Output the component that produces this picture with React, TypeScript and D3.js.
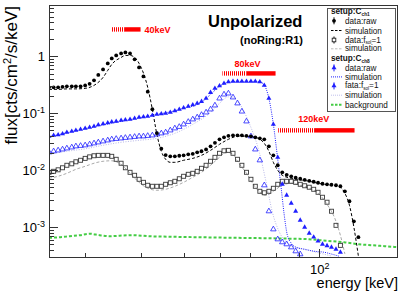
import React from "react";
import * as d3 from "d3";

const W = 407, H = 294;
const FR = { left: 49, right: 398, top: 5, bottom: 257 };
const X_DOMAIN: [number, number] = [25, 150];
const Y_DOMAIN: [number, number] = [3e-4, 8];
const FONT = "'Liberation Sans', Arial, Helvetica, sans-serif";
const BLUE = "#1f1fff";
const RED = "#ff0000";

// common energy grid (keV) for the measured points
const E_GRID = [25.0,25.6,26.2,26.8,27.4,28.1,28.7,29.4,30.1,30.8,31.5,32.2,33.0,33.8,34.5,35.3,36.2,37.0,37.9,38.8,39.7,40.6,41.5,42.5,43.5,44.5,45.5,46.6,47.7,48.8,49.9,51.1,52.3,53.5,54.7,56.0,57.3,58.6,60.0,61.4,62.8,64.3,65.8,67.3,68.9,70.5,72.1,73.8,75.5,77.3,79.1,80.9,82.8,84.7,86.7,88.7,90.8,92.9,95.1,97.3,99.5,101.8,104.2,106.6,109.1,111.6,114.2,116.9,119.6,122.4];

// setup C ch1, data raw
const CH1_RAW = [0.286,0.286,0.286,0.292,0.298,0.298,0.298,0.298,0.310,0.330,0.38,0.473,0.591,0.754,0.922,1.04,1.13,1.175,1.13,0.89,0.64,0.446,0.24,0.118,0.045,0.024,0.0185,0.0176,0.0176,0.0180,0.0183,0.0191,0.0195,0.0207,0.0216,0.0233,0.0264,0.0304,0.0350,0.0379,0.0403,0.0411,0.0411,0.0411,0.0403,0.0395,0.0379,0.0364,0.0350,0.0264,0.0183,0.01225,0.00922,0.00834,0.00785,0.00739,0.00710,0.00681,0.00654,0.00629,0.00604,0.00580,0.00568,0.00557,0.00546,0.00524,0.00428,0.00286,0.00127,0.00067];
// setup C ch1, data f_sol=1
const CH1_FSOL = [0.00922,0.00960,0.0102,0.01107,0.01225,0.0130,0.0141,0.0150,0.0162,0.0172,0.0180,0.0183,0.0183,0.0183,0.0176,0.0156,0.0133,0.01107,0.00922,0.00817,0.00695,0.00615,0.00546,0.00524,0.00524,0.00524,0.00568,0.00604,0.00641,0.0071,0.00785,0.00851,0.00886,0.0096,0.01084,0.01225,0.0144,0.0169,0.0199,0.0220,0.0224,0.0199,0.0156,0.01225,0.00922,0.00695,0.00524,0.00428,0.00403,0.00428,0.00483,0.00568,0.00641,0.00641,0.00641,0.00615,0.00568,0.00535,0.00504,0.00464,0.00411,0.00336,0.00275,0.00191,0.00108,0.00048];
// setup C ch8, data raw
const CH8_RAW = [0.0395,0.0411,0.0420,0.0437,0.0464,0.0483,0.0503,0.0524,0.0546,0.0568,0.0592,0.0629,0.0654,0.0681,0.0710,0.0724,0.0754,0.0769,0.0785,0.0817,0.0851,0.0868,0.0886,0.0922,0.0960,0.098,0.100,0.104,0.1107,0.1175,0.125,0.133,0.141,0.150,0.162,0.183,0.233,0.275,0.304,0.336,0.357,0.364,0.364,0.364,0.364,0.364,0.364,0.357,0.310,0.183,0.0641,0.0169,0.00568,0.00364,0.00264,0.00191,0.00133,0.00100,0.000785,0.00067,0.00057,0.000503,0.000473,0.000445,0.000411,0.000364];
// setup C ch8, data f_sol=1
const CH8_FSOL = [0.0207,0.0216,0.0224,0.0233,0.0243,0.0253,0.0264,0.0269,0.0275,0.0286,0.0298,0.0310,0.0323,0.0336,0.0350,0.0357,0.0364,0.0372,0.0379,0.0387,0.0395,0.0395,0.0403,0.0411,0.0428,0.0446,0.0464,0.0503,0.0546,0.058,0.0641,0.0710,0.0785,0.0851,0.0941,0.104,0.1175,0.138,0.183,0.215,0.224,0.191,0.150,0.108,0.0724,0.0395,0.0233,0.0150,0.00546,0.00191,0.00092,0.000615,0.000546,0.000503,0.000445,0.000379,0.000336];

// simulations
const SIM1_E = [25,26.2,27.4,28.7,30.1,31.5,33.0,33.8,34.5,36.2,37.0,37.9,38.8,39.7,41.5,42.5,43.5,44.5,45.5,46.6,47.7,49.9,52.3,54.7,57.3,60.0,62.8,64.3,65.8,68.9,72.1,73.8,75.5,77.3,79.1,80.9,82.8,86.7,90.8,95.1,99.5,104.2,109.1,111.6,114.2,116.9,119.6,122.4];
const SIM1 = [0.264,0.264,0.269,0.269,0.275,0.310,0.428,0.568,0.724,0.960,1.041,1.041,0.960,0.754,0.286,0.1175,0.0428,0.0216,0.0156,0.0138,0.0138,0.0150,0.0162,0.0183,0.0224,0.0286,0.0350,0.0379,0.0395,0.0395,0.0379,0.0350,0.0298,0.0216,0.0138,0.0100,0.00817,0.00724,0.00681,0.00641,0.00592,0.00557,0.00535,0.00504,0.00395,0.00243,0.0010,0.00031];
const SIM1F_E = [25,26.2,27.4,28.7,30.1,31.5,33.0,34.5,36.2,37.9,39.7,41.5,43.5,45.5,47.7,49.9,52.3,54.7,57.3,60.0,62.1,64.3,65.8,68.9,72.1,73.8,75.5,77.3,79.1,82.8,86.7,90.8,95.1,99.5,104.2,109.1,111.6,114.2];
const SIM1F = [0.00724,0.00785,0.00886,0.0104,0.01175,0.0133,0.0144,0.0147,0.0127,0.00886,0.00615,0.00483,0.00446,0.00464,0.00524,0.00615,0.00754,0.00922,0.01225,0.0169,0.0207,0.0191,0.0144,0.00886,0.00504,0.00411,0.00364,0.00379,0.00428,0.00546,0.00592,0.00546,0.00483,0.00395,0.00253,0.00127,0.00072,0.00034];
const SIM8_E = [25,31.5,39.7,49.9,54.7,57.3,60.0,62.8,65.8,72.1,74.3,76.3,77.8,79.1,80.9,82.4,83.6,84.9,86.7,88.9,92.9,97.5,102.6,106.9,110.8];
const SIM8 = [0.0387,0.058,0.0834,0.1224,0.156,0.215,0.298,0.350,0.364,0.364,0.350,0.264,0.144,0.0641,0.0156,0.00464,0.00169,0.000754,0.000524,0.000445,0.000411,0.000379,0.000364,0.000336,0.00031];
const SIM8F_E = [25,27.4,30.1,33.0,36.2,39.7,43.5,47.7,52.3,57.3,60.0,62.8,64.1,66.4,69.9,73.6,76.3,78.6,81.6,85.8,90.3,96.5,106.9];
const SIM8F = [0.0191,0.0216,0.0238,0.0275,0.0310,0.0336,0.0364,0.0446,0.0641,0.104,0.150,0.195,0.191,0.150,0.0668,0.0207,0.00592,0.00191,0.000817,0.000503,0.000428,0.000379,0.00031];
// background
const BG_E = [25,26.5,27.8,29.3,30.8,32.4,34.2,35.9,38.4,41.9,46.4,53.3,63.1,76.3,87.1,95.1,103.7,113.7,122.8,136.0,150];
const BG = [0.000654,0.000668,0.000695,0.000724,0.000769,0.000724,0.000695,0.00071,0.000724,0.000695,0.000681,0.000668,0.000654,0.000641,0.000628,0.000615,0.000579,0.000546,0.000503,0.000473,0.000445];

// line energy markers
const LINE_LABELS = ["40keV", "80keV", "120keV"];
const LINE_END_E = [40, 80, 120];
const LINE_SOLID_E = [36.9, 68.9, 97.5];
const LINE_HATCH_E = [34.5, 60.9, 81.1];
const LINE_LEVEL = [2.98, 0.503, 0.0503];

export default function App() {
  const x = d3.scaleLog().domain(X_DOMAIN).range([FR.left, FR.right]);
  const y = d3.scaleLog().domain(Y_DOMAIN).range([FR.bottom, FR.top]);
  const yc = (v: number) => y(Math.max(v, 2.5e-4));
  const path = (es: number[], vs: number[]) =>
    d3.line<number>().x((_, i) => x(es[i])).y((d) => yc(d)).curve(d3.curveMonotoneX)(vs) || "";

  const yTicks = y.ticks().filter((t) => t >= Y_DOMAIN[0] && t <= Y_DOMAIN[1]);
  const xTicks = x.ticks().filter((t) => t >= X_DOMAIN[0] && t <= X_DOMAIN[1]);
  const isMajor = (t: number) => Math.abs(Math.log10(t) - Math.round(Math.log10(t))) < 1e-6;
  const tri = d3.symbol().type(d3.symbolTriangle);

  const yLabels: [number, string, string][] = [[1, "1", ""], [0.1, "10", "-1"], [0.01, "10", "-2"], [0.001, "10", "-3"]];

  const legX = 329, legY = 8;
  const legRows = [20.8, 30.5, 40.0, 48.8, 67.9, 76.9, 85.9, 95.2, 104.7];

  return (
    <svg width={W} height={H} style={{ position: "absolute", left: 0, top: 0, background: "#fff" }} fontFamily={FONT}>
      <defs>
        <clipPath id="clip"><rect x={FR.left} y={FR.top} width={FR.right - FR.left} height={FR.bottom - FR.top} /></clipPath>
        <pattern id="hatch" width={2} height={4} patternUnits="userSpaceOnUse">
          <rect x={0} y={0} width={1} height={4} fill={RED} />
        </pattern>
      </defs>
      <rect width={W} height={H} fill="#fff" />

      <g clipPath="url(#clip)">
        {/* background */}
        <path d={path(BG_E, BG)} fill="none" stroke="#44cc44" strokeWidth={2} strokeDasharray="3,2" />
        {/* simulations */}
        <path d={path(SIM8F_E, SIM8F)} fill="none" stroke="#b8b8e8" strokeWidth={1} strokeDasharray="1,1.5" />
        <path d={path(SIM1F_E, SIM1F)} fill="none" stroke="#aaaaaa" strokeWidth={1} strokeDasharray="3,2" />
        <path d={path(SIM8_E, SIM8)} fill="none" stroke={BLUE} strokeWidth={1} strokeDasharray="1,1.2" />
        <path d={path(SIM1_E, SIM1)} fill="none" stroke="#000" strokeWidth={1} strokeDasharray="3,2" />

        {/* data: ch1 f_sol=1 open squares */}
        {CH1_FSOL.map((v, i) => (
          <rect key={"s" + i} x={x(E_GRID[i]) - 2} y={yc(v) - 2} width={4} height={4} fill="none" stroke="#3a3a3a" strokeWidth={0.9} />
        ))}
        {/* data: ch8 f_sol=1 open triangles */}
        {CH8_FSOL.map((v, i) => (
          <path key={"t" + i} d={tri.size(13)() || ""} transform={`translate(${x(E_GRID[i])},${yc(v)})`} fill="none" stroke={BLUE} strokeWidth={0.8} />
        ))}
        {/* data: ch8 raw filled triangles */}
        {CH8_RAW.map((v, i) => (
          <path key={"b" + i} d={tri.size(11)() || ""} transform={`translate(${x(E_GRID[i])},${yc(v)})`} fill={BLUE} />
        ))}
        {/* data: ch1 raw filled circles */}
        {CH1_RAW.map((v, i) => (
          <circle key={"c" + i} cx={x(E_GRID[i])} cy={yc(v)} r={1.9} fill="#000" />
        ))}
      </g>

      {/* energy line markers */}
      {LINE_LABELS.map((lab, i) => {
        const yy = y(LINE_LEVEL[i]);
        const xh = x(LINE_HATCH_E[i]), xs = x(LINE_SOLID_E[i]), xe = x(LINE_END_E[i]);
        const tx = i === 0 ? xe + 4 : xh + (i === 1 ? 12 : 20);
        const ty = i === 0 ? yy + 3.5 : yy - (i === 1 ? 6 : 8);
        return (
          <g key={lab}>
            <rect x={xh} y={yy - 2.2} width={xs - xh} height={4.4} fill="url(#hatch)" />
            <rect x={xs} y={yy - 2.2} width={xe - xs} height={4.4} fill={RED} />
            <text x={tx} y={ty} fill={RED} fontSize={9} fontWeight="bold">{lab}</text>
          </g>
        );
      })}

      {/* frame */}
      <rect x={FR.left + 0.5} y={FR.top + 0.5} width={FR.right - FR.left - 1} height={FR.bottom - FR.top} fill="none" stroke="#333" strokeWidth={1} />

      {/* y ticks */}
      {yTicks.map((t, i) => {
        const yy = Math.round(y(t)) + 0.5;
        const len = isMajor(t) ? 9 : 5;
        return <line key={"yt" + i} x1={FR.left} x2={FR.left + len} y1={yy} y2={yy} stroke="#333" strokeWidth={1} />;
      })}
      {yLabels.map(([v, base, sup]) => (
        <text key={"yl" + v} x={45} y={y(v) + 5} textAnchor="end" fontSize={13} fill="#000">
          {base}
          {sup ? <tspan dy={-5} fontSize={9}>{sup}</tspan> : null}
        </text>
      ))}

      {/* x ticks */}
      {xTicks.map((t, i) => {
        const xx = Math.round(x(t)) + 0.5;
        const len = isMajor(t) ? 8 : 4;
        return <line key={"xt" + i} x1={xx} x2={xx} y1={FR.bottom} y2={FR.bottom - len} stroke="#333" strokeWidth={1} />;
      })}
      <text x={x(100) - 9} y={273.5} fontSize={13} fill="#000">10<tspan dy={-5} fontSize={9}>2</tspan></text>

      {/* axis titles */}
      <text x={398} y={287.5} textAnchor="end" fontSize={14.5} fill="#000">energy [keV]</text>
      <text transform="translate(17,6) rotate(-90)" textAnchor="end" fontSize={17} fill="#000">
        flux[cts/cm<tspan dy={-6} fontSize={11}>2</tspan><tspan dy={6}>/s/keV]</tspan>
      </text>

      {/* titles */}
      <text x={208} y={27} fontSize={16.5} fontWeight="bold" fill="#000">Unpolarized</text>
      <text x={240} y={44} fontSize={11} fontWeight="bold" fill="#000">(noRing:R1)</text>

      {/* legend */}
      <g fontSize={8.2} fill="#111">
        <rect x={legX - 1.5} y={legY + 0.5} width={68} height={103} fill="#fff" stroke="#555" strokeWidth={1} />
        <text x={legX + 2} y={legY + 6} fontWeight="bold">setup:C<tspan dy={2} fontSize={4.8}>ch1</tspan></text>
        <text x={legX + 2} y={legY + 52.8} fontWeight="bold">setup:C<tspan dy={2} fontSize={4.8}>ch8</tspan></text>
        {/* ch1 raw */}
        <line x1={legX + 5} x2={legX + 5} y1={legRows[0] - 3.5} y2={legRows[0] + 3.5} stroke="#000" />
        <circle cx={legX + 5} cy={legRows[0]} r={1.9} fill="#000" />
        <text x={legX + 16} y={legRows[0] + 3}>data:raw</text>
        {/* ch1 sim */}
        <line x1={legX + 2} x2={legX + 14} y1={legRows[1]} y2={legRows[1]} stroke="#000" strokeDasharray="2.5,1.5" />
        <text x={legX + 16} y={legRows[1] + 3}>simulation</text>
        {/* ch1 fsol */}
        <line x1={legX + 5} x2={legX + 5} y1={legRows[2] - 3.5} y2={legRows[2] + 3.5} stroke="#000" />
        <rect x={legX + 3.2} y={legRows[2] - 1.8} width={3.6} height={3.6} fill="#fff" stroke="#222" strokeWidth={0.9} />
        <text x={legX + 16} y={legRows[2] + 2.5}>data:f<tspan dy={1.5} fontSize={4.6}>sol</tspan><tspan dy={-1.5}>=1</tspan></text>
        {/* ch1 fsol sim */}
        <line x1={legX + 2} x2={legX + 14} y1={legRows[3]} y2={legRows[3]} stroke="#bbb" strokeDasharray="2.5,1.5" />
        <text x={legX + 16} y={legRows[3] + 2.6}>simulation</text>
        {/* ch8 raw */}
        <line x1={legX + 5} x2={legX + 5} y1={legRows[4] - 3.5} y2={legRows[4] + 3.5} stroke={BLUE} />
        <path d={tri.size(11)() || ""} transform={`translate(${legX + 5},${legRows[4]})`} fill={BLUE} />
        <text x={legX + 16} y={legRows[4] + 3}>data:raw</text>
        {/* ch8 sim */}
        <line x1={legX + 2} x2={legX + 14} y1={legRows[5]} y2={legRows[5]} stroke={BLUE} strokeDasharray="1,1" />
        <text x={legX + 16} y={legRows[5] + 3}>simulation</text>
        {/* ch8 fsol */}
        <line x1={legX + 5} x2={legX + 5} y1={legRows[6] - 3.5} y2={legRows[6] + 3.5} stroke={BLUE} />
        <path d={tri.size(11)() || ""} transform={`translate(${legX + 5},${legRows[6]})`} fill={BLUE} />
        <text x={legX + 16} y={legRows[6] + 2.5}>fata:f<tspan dy={1.5} fontSize={4.6}>sol</tspan><tspan dy={-1.5}>=1</tspan></text>
        {/* ch8 fsol sim */}
        <line x1={legX + 2} x2={legX + 14} y1={legRows[7]} y2={legRows[7]} stroke="#c0c0ec" strokeDasharray="1,1" />
        <text x={legX + 16} y={legRows[7] + 3}>simulation</text>
        {/* background */}
        <line x1={legX + 2} x2={legX + 14} y1={legRows[8]} y2={legRows[8]} stroke="#44cc44" strokeWidth={2} strokeDasharray="2.5,1.5" />
        <text x={legX + 16} y={legRows[8] + 3}>background</text>
      </g>
    </svg>
  );
}
